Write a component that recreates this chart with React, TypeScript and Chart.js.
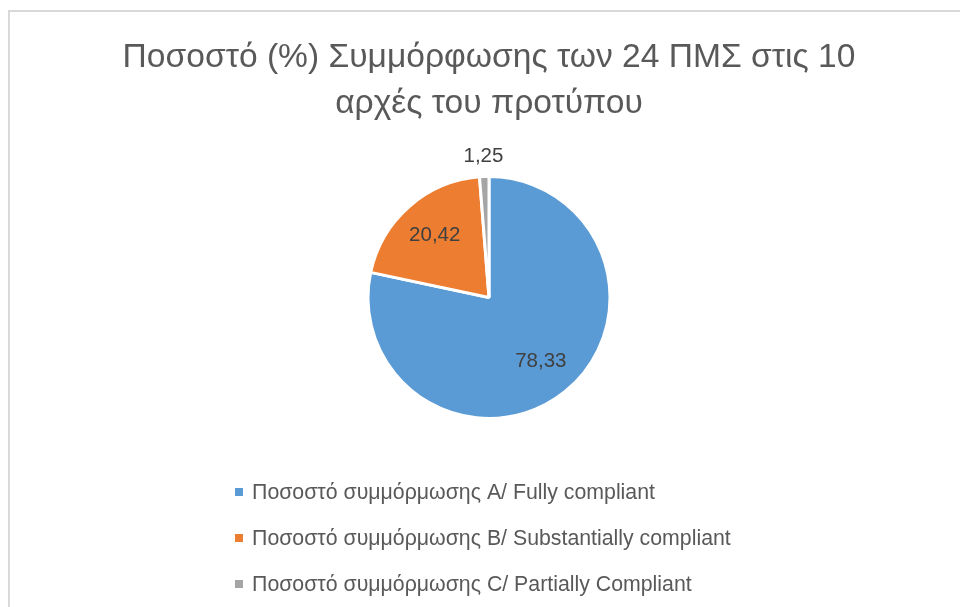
import React, { useEffect, useRef } from "react";
import { Chart, registerables } from "chart.js";

Chart.register(...registerables);

const titleLines = ["Ποσοστό (%) Συμμόρφωσης των 24 ΠΜΣ στις 10", "αρχές του προτύπου"];
const categories = [
  "Ποσοστό συμμόρμωσης A/ Fully compliant",
  "Ποσοστό συμμόρμωσης B/ Substantially compliant",
  "Ποσοστό συμμόρμωσης C/ Partially Compliant",
];
const values = [78.33, 20.42, 1.25];
const valueLabels = ["78,33", "20,42", "1,25"];
const colors = ["#5B9BD5", "#ED7D31", "#A5A5A5"];

const FONT = "'Liberation Sans', Arial, sans-serif";

const framePlugin = {
  id: "frame",
  beforeDraw(chart: any) {
    const ctx = chart.ctx;
    ctx.save();
    ctx.fillStyle = "#ffffff";
    ctx.fillRect(0, 0, chart.width, chart.height);
    ctx.strokeStyle = "#d9d9d9";
    ctx.lineWidth = 2;
    ctx.strokeRect(9, 11, chart.width + 40, chart.height + 40);
    ctx.restore();
  },
};

const labelPlugin = {
  id: "valueLabels",
  afterDatasetsDraw(chart: any) {
    const ctx = chart.ctx;
    const meta = chart.getDatasetMeta(0);
    ctx.save();
    ctx.fillStyle = "#404040";
    ctx.font = `20.5px ${FONT}`;
    ctx.textAlign = "center";
    ctx.textBaseline = "middle";
    const total = values.reduce((a, b) => a + b, 0);
    meta.data.forEach((arc: any, i: number) => {
      const p = arc.getProps(["x", "y", "startAngle", "endAngle", "outerRadius"], true);
      const mid = (p.startAngle + p.endAngle) / 2;
      const share = values[i] / total;
      const r = share > 0.05 ? p.outerRadius * 0.68 : p.outerRadius + 20;
      ctx.fillText(valueLabels[i], p.x + Math.cos(mid) * r, p.y + Math.sin(mid) * r);
    });
    ctx.restore();
  },
};

const legendPlugin = {
  id: "customLegend",
  afterDraw(chart: any) {
    const ctx = chart.ctx;
    const ds = chart.data.datasets[0];
    ctx.save();
    ctx.font = `21.3px ${FONT}`;
    ctx.textBaseline = "middle";
    ctx.textAlign = "left";
    const left = 235;
    const top = 492;
    const step = 46;
    (chart.data.labels as string[]).forEach((lab, i) => {
      const y = top + i * step;
      ctx.fillStyle = ds.backgroundColor[i];
      ctx.fillRect(left, y - 4, 8, 8);
      ctx.fillStyle = "#595959";
      ctx.fillText(lab, left + 17, y + 1);
    });
    ctx.restore();
  },
};

export default function App() {
  const ref = useRef<HTMLCanvasElement | null>(null);
  useEffect(() => {
    document.body.style.margin = "0";
    if (!ref.current) return;
    const chart = new Chart(ref.current, {
      type: "pie",
      data: {
        labels: categories,
        datasets: [
          {
            data: values,
            backgroundColor: colors,
            borderColor: "#ffffff",
            borderWidth: 3,
          },
        ],
      },
      options: {
        animation: false,
        responsive: false,
        layout: { padding: { left: 18, right: 0, top: 0, bottom: 187 } },
        plugins: {
          legend: { display: false },
          tooltip: { enabled: false },
          title: {
            display: true,
            text: titleLines,
            color: "#595959",
            font: { family: FONT, size: 33.6, weight: "normal" as any, lineHeight: 46 / 33.6 },
            padding: { top: 35, bottom: 48 },
          },
        },
      },
      plugins: [framePlugin, labelPlugin, legendPlugin],
    });
    return () => chart.destroy();
  }, []);
  return (
    <div style={{ width: 960, height: 607 }}>
      <canvas ref={ref} width={960} height={607} style={{ display: "block" }} />
    </div>
  );
}
